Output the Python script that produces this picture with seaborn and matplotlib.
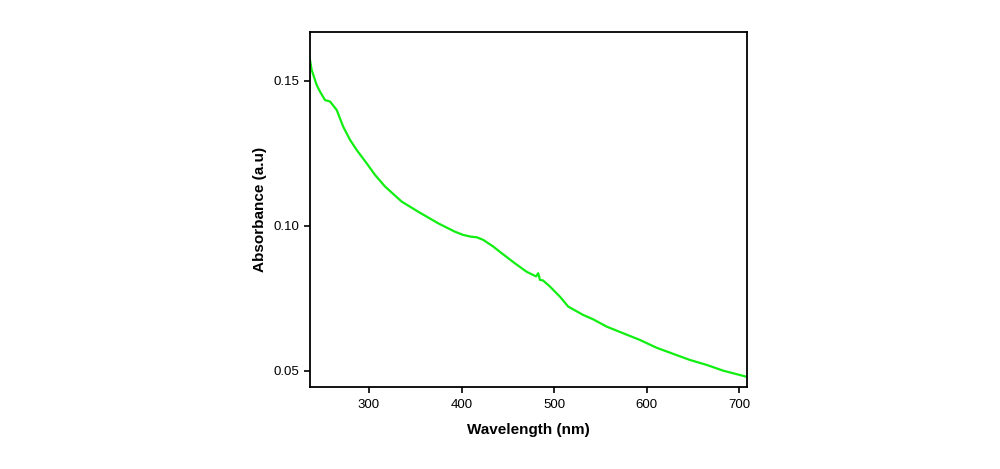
import matplotlib
matplotlib.use("Agg")
import matplotlib.pyplot as plt
import pandas as pd
import seaborn as sns

# Values
wavelength = [236.3, 238.1, 243.5, 247.1, 252.5, 257.9, 265.1, 272.2, 279.5, 286.7,
              297.5, 306.5, 317.3, 335.3, 353.2, 374.8, 392.9, 401.8, 410.0, 416.3,
              423.4, 434.2, 443.3, 457.7, 470.3, 480.5, 482.8, 484.7, 488.0, 495.5,
              506.3, 515.2, 531.4, 542.2, 556.7, 574.6, 592.6, 610.7, 628.6, 646.6,
              664.7, 682.6, 697.1, 707.9]
absorbance = [0.1572, 0.1538, 0.1486, 0.1463, 0.1434, 0.1429, 0.1400, 0.1342, 0.1297, 0.1262,
              0.1216, 0.1176, 0.1136, 0.1084, 0.1049, 0.1009, 0.0980, 0.0969, 0.0963, 0.0961,
              0.0952, 0.0929, 0.0906, 0.0871, 0.0842, 0.0826, 0.0837, 0.0814, 0.0812, 0.0791,
              0.0756, 0.0722, 0.0693, 0.0678, 0.0653, 0.0630, 0.0607, 0.0580, 0.0559, 0.0538,
              0.0521, 0.0501, 0.0489, 0.0480]
x_ticks = [300, 400, 500, 600, 700]
y_ticks = [0.05, 0.10, 0.15]

df = pd.DataFrame({"Wavelength": wavelength, "Absorbance": absorbance})

sns.set_style("ticks")
plt.rcParams['font.family'] = ['Liberation Sans', 'DejaVu Sans']
plt.rcParams['text.color'] = 'black'
plt.rcParams['axes.labelcolor'] = 'black'

fig = plt.figure(figsize=(10, 4.69), dpi=100)
ax = fig.add_axes([0.31, 0.175, 0.437, 0.757])

sns.lineplot(x="Wavelength", y="Absorbance", data=df, color="#11ee11", linewidth=1.6, ax=ax)

ax.set_xlim(236.3, 708.3)
ax.set_ylim(0.0445, 0.1669)
ax.set_xticks(x_ticks)
ax.set_yticks(y_ticks)
ax.set_xticklabels([str(t) for t in x_ticks])
ax.set_yticklabels(["%.2f" % t for t in y_ticks])
ax.tick_params(direction="out", length=4.5, width=1.2, labelsize=9.5,
               colors="black", top=False, right=False)
ax.tick_params(axis="x", pad=4.5)
ax.tick_params(axis="y", pad=3.2)
for s in ax.spines.values():
    s.set_visible(True)
    s.set_color("black")
    s.set_linewidth(1.3)

ax.set_xlabel("Wavelength (nm)", fontsize=11, fontweight="bold", labelpad=8.5)
ax.set_ylabel("Absorbance (a.u)", fontsize=11, fontweight="bold", labelpad=4.5)

plt.savefig("out.png", dpi=100)
